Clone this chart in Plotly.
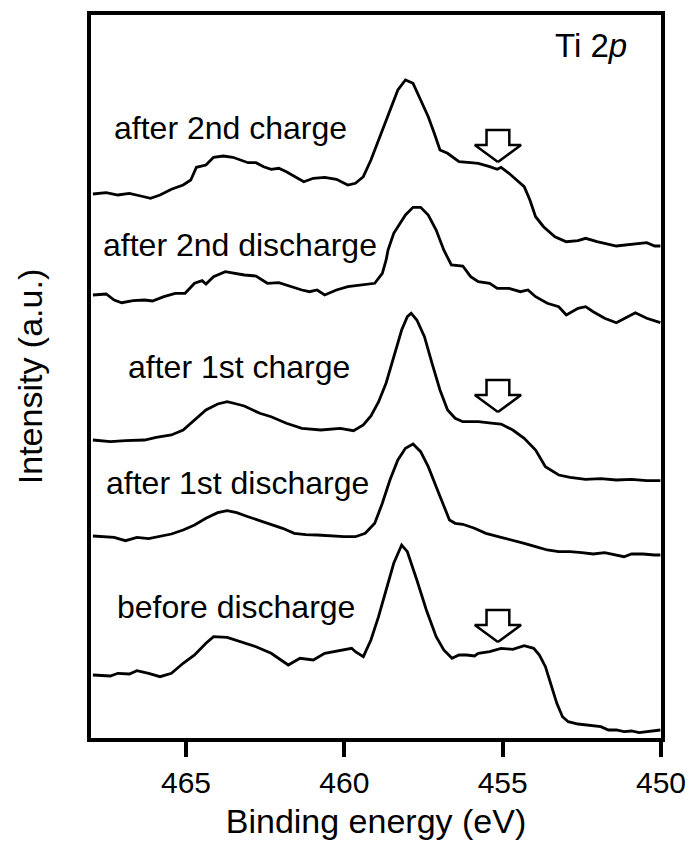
import plotly.graph_objects as go

# ---- data (binding energy in eV, intensity in a.u.) ----
e_2nd_charge = [467.94, 467.52, 467.15, 466.79, 466.43, 466.12, 465.82, 465.46, 465.09, 464.85,
                464.67, 464.37, 464.13, 463.82, 463.52, 463.28, 463.04, 462.79, 462.55, 462.31,
                462.07, 461.83, 461.58, 461.28, 460.98, 460.62, 460.25, 459.89, 459.65, 459.40,
                459.16, 458.92, 458.68, 458.56, 458.31, 458.07, 457.83, 457.59, 457.35, 457.16,
                456.98, 456.74, 456.38, 456.01, 455.77, 455.41, 455.17, 455.05, 454.80, 454.56,
                454.32, 454.14, 453.96, 453.71, 453.35, 452.99, 452.62, 452.38, 452.02, 451.41,
                450.81, 450.45, 450.20, 450.02]
i_2nd_charge = [544, 545.3, 543, 544.7, 542, 539.7, 543, 548.7, 553, 558,
                570.7, 573, 580.7, 582, 580.7, 578, 575.3, 575.3, 571.3, 568.7,
                569.7, 566.3, 562, 556.3, 559.7, 560.7, 558.7, 553, 554.7, 561.3,
                578, 598, 618, 628, 648, 658, 654.7, 638, 621.3, 604.7,
                588, 584.7, 576.3, 575.3, 574.7, 571.3, 568.7, 570.7, 564.7, 558,
                551.3, 538, 521.3, 511.3, 501.3, 496.3, 497.3, 499.7, 496.3, 492,
                494, 495.3, 492, 492]

e_2nd_discharge = [467.94, 467.52, 467.27, 467.03, 466.67, 466.31, 466.06, 465.70, 465.34, 465.03,
                   464.73, 464.49, 464.37, 464.13, 463.76, 463.52, 463.16, 462.79, 462.43, 462.07,
                   461.70, 461.34, 461.10, 460.86, 460.62, 460.25, 459.89, 459.40, 459.04, 458.80,
                   458.68, 458.62, 458.44, 458.07, 457.83, 457.59, 457.35, 457.10, 456.86, 456.62,
                   456.26, 456.01, 455.77, 455.41, 455.17, 454.80, 454.44, 454.20, 453.96, 453.59,
                   453.23, 452.99, 452.62, 452.38, 452.14, 451.78, 451.41, 451.05, 450.81, 450.45,
                   450.02]
i_2nd_discharge = [443, 444, 438, 435.3, 437.3, 438, 437, 441.3, 444.7, 444.7,
                   454.7, 457.3, 454, 461.3, 466.3, 464.7, 463, 462, 454.7, 455.3,
                   451.3, 448, 446.3, 448, 443, 448, 451.3, 453, 454.7, 464.7,
                   478, 488, 504.7, 523, 530.7, 530.7, 523, 508, 488, 473,
                   472, 461.3, 456.3, 454.7, 449.7, 449.7, 446.3, 448, 441.3, 434.7,
                   431.3, 423, 429.7, 431.3, 426.3, 419.7, 415.3, 421.3, 425.3, 419.7,
                   415.3]

e_1st_charge = [467.94, 467.39, 466.91, 466.31, 465.94, 465.46, 465.09, 464.73, 464.37, 464.00,
                463.70, 463.40, 463.16, 462.67, 462.31, 461.83, 461.34, 460.74, 460.13, 459.71,
                459.40, 459.16, 458.92, 458.68, 458.44, 458.19, 458.01, 457.89, 457.71, 457.47,
                457.23, 456.98, 456.74, 456.50, 456.26, 455.77, 455.29, 455.05, 454.68, 454.32,
                453.96, 453.65, 453.23, 452.87, 452.38, 451.90, 451.41, 450.93, 450.45, 450.02]
i_1st_charge = [298, 296.3, 297.3, 298, 300.7, 303, 308, 318, 328, 334,
                336.3, 334, 332, 324.7, 321.3, 314.7, 309.7, 308, 309.7, 307.3,
                313, 322, 336, 355, 380, 408, 421.3, 424.7, 418, 401.3,
                374.7, 348, 328, 319.7, 316.3, 316.3, 314.7, 314, 308, 299.7,
                288, 271.3, 263, 260.7, 258.7, 259.3, 258, 258.7, 257.3, 257.3]

e_1st_discharge = [467.94, 467.64, 467.27, 466.91, 466.55, 466.18, 465.82, 465.46, 465.09, 464.73,
                   464.37, 464.00, 463.70, 463.40, 463.04, 462.67, 462.31, 461.95, 461.58, 461.22,
                   460.86, 460.49, 460.01, 459.65, 459.34, 459.04, 458.80, 458.56, 458.31, 458.07,
                   457.83, 457.59, 457.35, 457.10, 456.86, 456.68, 456.50, 456.26, 455.89, 455.53,
                   455.05, 454.68, 454.32, 453.96, 453.59, 453.23, 452.87, 452.50, 452.14, 451.78,
                   451.41, 451.17, 450.93, 450.57, 450.20, 450.02]
i_1st_discharge = [202, 201.3, 200.7, 197.3, 200.7, 199.3, 201.3, 204, 208, 213,
                   219.7, 225.3, 227.3, 225.3, 221.3, 217.3, 214, 209.7, 204.7, 203.3,
                   203, 202, 201.3, 201.3, 204.7, 214.7, 234.7, 258, 278, 289.7,
                   294, 286.3, 271.3, 251.3, 231.3, 218, 214.7, 213.7, 209.7, 204.7,
                   200.7, 198, 194.7, 191.3, 188, 186.3, 186.3, 185.3, 184, 185.3,
                   183, 181.3, 184, 184, 183, 183]

e_before = [467.94, 467.39, 467.15, 466.79, 466.55, 466.18, 465.82, 465.46, 465.09, 464.73,
            464.37, 464.13, 463.70, 463.28, 462.79, 462.31, 462.07, 461.77, 461.40, 460.98,
            460.62, 460.13, 459.77, 459.65, 459.40, 459.16, 458.92, 458.68, 458.44, 458.19,
            458.01, 457.71, 457.41, 457.10, 456.86, 456.60, 456.38, 456.14, 455.89, 455.77,
            455.41, 455.05, 454.68, 454.32, 454.02, 453.84, 453.65, 453.47, 453.29, 453.11,
            452.93, 452.62, 452.26, 451.90, 451.66, 451.41, 451.17, 450.93, 450.69, 450.45,
            450.20, 450.02]
i_before = [63, 62, 64.7, 64, 67.3, 64.7, 61.3, 64.7, 74.7, 83,
            94.7, 101.3, 100.7, 96.3, 91.3, 84.7, 79.7, 73, 79.7, 78,
            84.7, 87.3, 89.7, 86.3, 81.3, 98, 121.3, 148, 174.7, 193,
            186.3, 158, 128, 101.3, 88, 79.7, 83, 83, 82, 84.7,
            86.3, 89.7, 88.7, 92.3, 89.7, 83, 71.3, 53, 34.7, 21.3,
            16.3, 14, 13, 11.3, 8, 8, 6.3, 7, 5.3, 6.3,
            7, 8]

series_energy = [e_2nd_charge, e_2nd_discharge, e_1st_charge, e_1st_discharge, e_before]
series_intensity = [i_2nd_charge, i_2nd_discharge, i_1st_charge, i_1st_discharge, i_before]

labels = ["after 2nd charge", "after 2nd discharge", "after 1st charge",
          "after 1st discharge", "before discharge"]
label_energy = [463.61, 463.30, 463.34, 463.36, 463.42]
label_intensity = [610, 493, 371, 255, 131]

panel_label = "Ti 2<i>p</i>"
panel_label_energy = 452.2
panel_label_intensity = 693

arrow_energy = [455.15, 455.15, 455.15]
arrow_tip_intensity = [576, 326, 96]

x_tickvals = [465, 460, 455, 450]
x_ticktext = ["465", "460", "455", "450"]

# ---- styles ----
FONT = "Liberation Sans, Arial, sans-serif"
HEAD_HALF = 0.73
SHAFT_HALF = 0.36
HEAD_H = 17
SHAFT_H = 15

fig = go.Figure()
for e, i in zip(series_energy, series_intensity):
    fig.add_trace(go.Scatter(x=e, y=i, mode="lines", line=dict(color="black", width=2.8),
                             hoverinfo="skip", showlegend=False))

for te, ti in zip(arrow_energy, arrow_tip_intensity):
    xs = [te, te + HEAD_HALF, te + SHAFT_HALF, te + SHAFT_HALF, te - SHAFT_HALF,
          te - SHAFT_HALF, te - HEAD_HALF, te]
    ys = [ti, ti + HEAD_H, ti + HEAD_H, ti + HEAD_H + SHAFT_H, ti + HEAD_H + SHAFT_H,
          ti + HEAD_H, ti + HEAD_H, ti]
    fig.add_trace(go.Scatter(x=xs, y=ys, mode="lines", fill="toself", fillcolor="white",
                             line=dict(color="black", width=2.5), hoverinfo="skip",
                             showlegend=False))

for txt, le, li in zip(labels, label_energy, label_intensity):
    fig.add_annotation(x=le, y=li, text=txt, showarrow=False,
                       font=dict(size=32, family=FONT, color="black"),
                       bgcolor="white" if txt == "after 2nd discharge" else None,
                       borderpad=3)

fig.add_annotation(x=panel_label_energy, y=panel_label_intensity, text=panel_label,
                   showarrow=False, font=dict(size=33, family=FONT, color="black"))

fig.update_layout(
    width=696, height=846,
    margin=dict(l=91, r=35, t=15, b=108),
    plot_bgcolor="white", paper_bgcolor="white",
    font=dict(family=FONT, color="black"),
    showlegend=False,
)
fig.update_xaxes(range=[468, 450], tickvals=x_tickvals, ticktext=x_ticktext,
                 ticks="outside", ticklen=15, tickwidth=4, tickcolor="black",
                 showline=True, linewidth=4, linecolor="black", mirror=True,
                 showgrid=False, zeroline=False, automargin=False,
                 tickfont=dict(size=30, family=FONT, color="black"),
                 title=dict(text="Binding energy (eV)", font=dict(size=34, family=FONT, color="black"),
                            standoff=12))
fig.update_yaxes(range=[0, 723], showticklabels=False, ticks="",
                 showline=True, linewidth=4, linecolor="black", mirror=True,
                 showgrid=False, zeroline=False, automargin=False,
                 title=dict(text="Intensity (a.u.)", font=dict(size=34, family=FONT, color="black"),
                            standoff=35))

fig.write_html("out.html")
